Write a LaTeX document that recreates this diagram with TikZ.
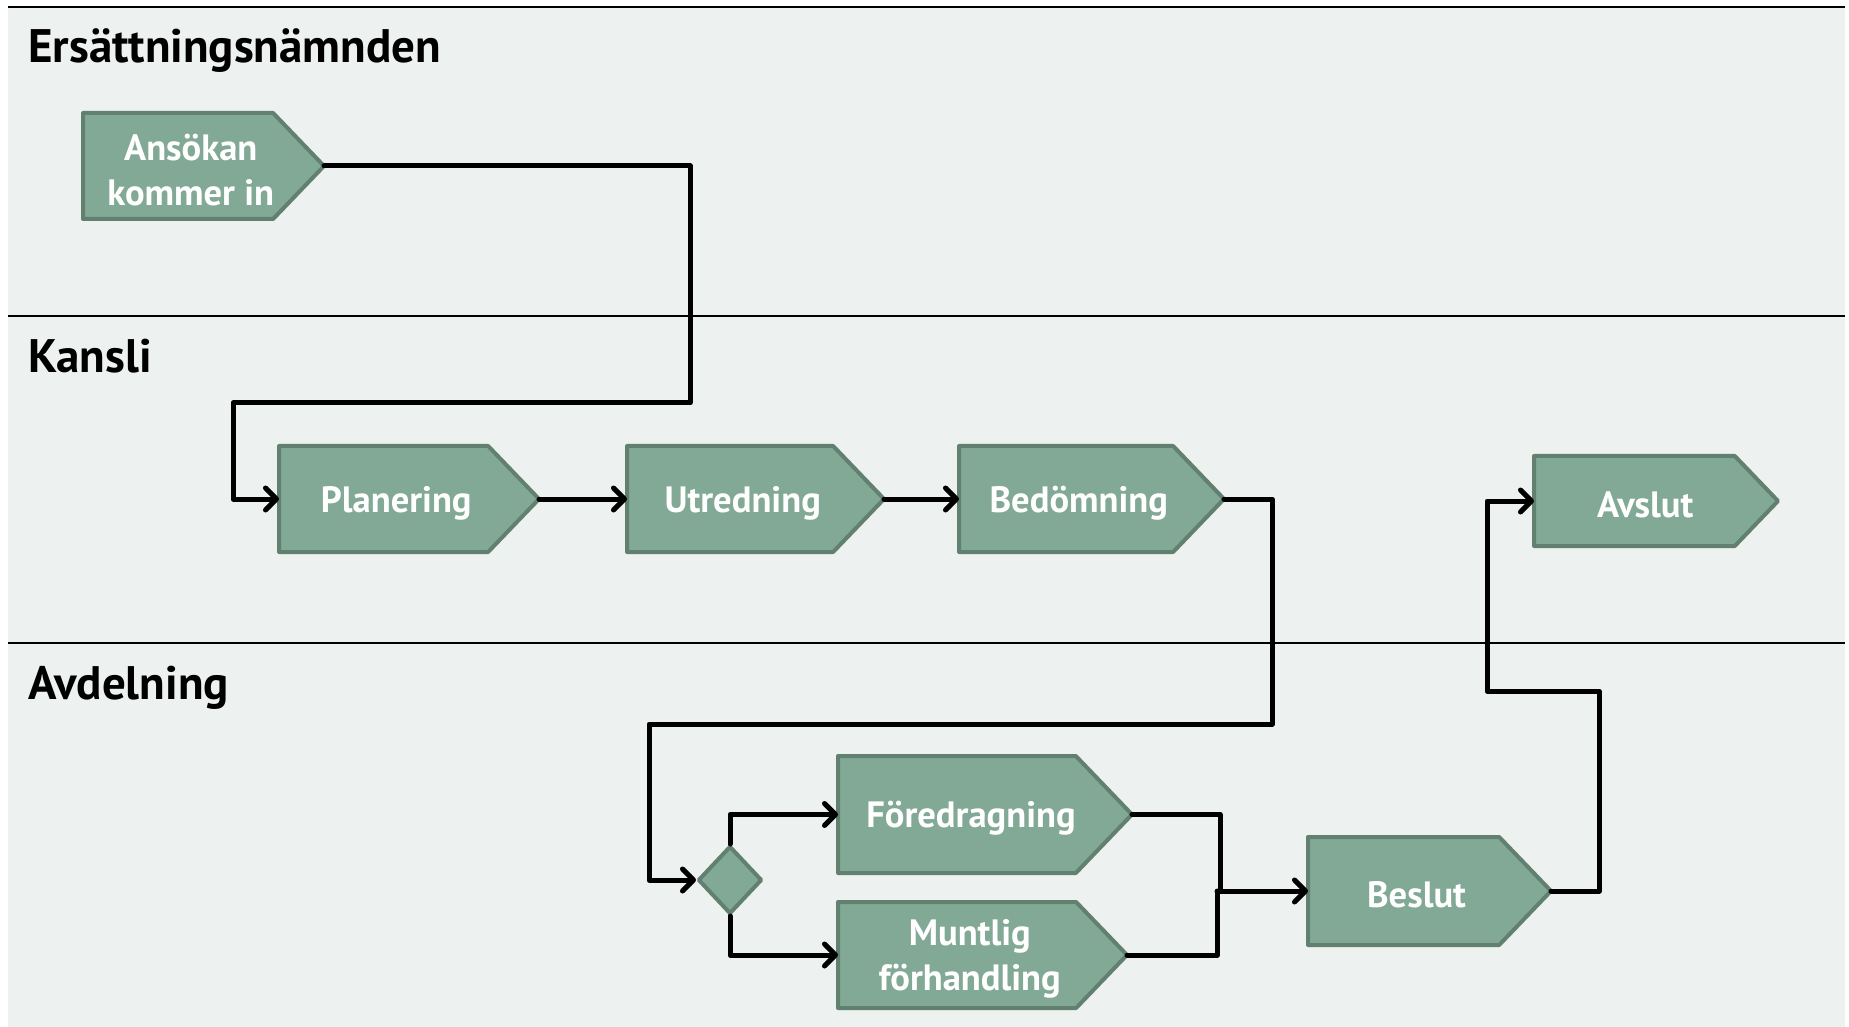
\documentclass[tikz,border=0pt]{standalone}
\usepackage{fontspec}
\setmainfont{PT Sans}
\usetikzlibrary{arrows.meta,shapes.geometric,calc}
\definecolor{bgc}{HTML}{EDF1EF}
\definecolor{boxfill}{HTML}{82A996}
\definecolor{boxedge}{HTML}{62806F}
\tikzset{
  procedge/.style={draw=boxedge, fill=boxfill, line width=2pt, line join=round},
  procframe/.style={rectangle, inner sep=0pt, outer sep=0pt, draw=none},
  proctext/.style={text=white, font=\fontsize{18.3}{22.5}\selectfont\bfseries, align=center, inner sep=0pt},
  lanelabel/.style={font=\fontsize{23.5}{27}\selectfont\bfseries, anchor=base west, inner sep=0pt},
  conn/.style={line width=2.5pt, line join=round, line cap=round},
  arr/.style={conn, -{Straight Barb[round,length=5.5pt,width=11pt]}},
}
% #1 name, #2 x1, #3 x2, #4 y1, #5 y2, #6 text
\newcommand\procbox[6]{%
  \pgfmathsetmacro\procdep{(#5-#4)*0.48}%
  \node[procframe, minimum width={(#3-#2)*0.5pt}, minimum height={(#5-#4)*0.5pt}] (#1) at ({(#2+#3)/2},{(#4+#5)/2}) {};
  \path[procedge] (#1.north west) -- ([xshift={-\procdep*0.5pt}]#1.north east) -- (#1.east) -- ([xshift={-\procdep*0.5pt}]#1.south east) -- (#1.south west) -- cycle;
  \node[proctext, yshift=-2pt] (#1-label) at ({(#2+#3-\procdep/2)/2},{(#4+#5)/2}) {#6};
}
\begin{document}
\begin{tikzpicture}[x=0.5pt,y=-0.5pt]
\useasboundingbox (0,0) rectangle (1849,1027);
\fill[bgc] (8,7) rectangle (1845,1027);
\draw[line width=1.4pt] (8,7) -- (1845,7);
\draw[line width=1pt] (8,316) -- (1845,316);
\draw[line width=1pt] (8,643) -- (1845,643);

\node[lanelabel] (lane1) at (28,63) {Ersättningsnämnden};
\node[lanelabel] (lane2) at (28,372) {Kansli};
\node[lanelabel] (lane3) at (28,699) {Avdelning};

\procbox{ans}{83}{324}{113}{219}{Ansökan\\kommer in}
\procbox{plan}{279}{539}{446}{552}{Planering}
\procbox{utr}{627}{884}{446}{552}{Utredning}
\procbox{bed}{959}{1224}{446}{552}{Bedömning}
\procbox{avs}{1534}{1778}{456}{546}{Avslut}
\procbox{fore}{838}{1132}{756}{873}{Föredragning}
\procbox{munt}{838}{1127}{902}{1008}{Muntlig\\förhandling}
\procbox{besl}{1308}{1551}{837}{945}{Beslut}
\node[diamond, procedge, minimum width=32pt, minimum height=34pt, inner sep=0pt] (dia) at (730,880) {};

\draw[arr] (ans.east) -| (690,403) -| ([xshift=-23pt]plan.west) -- (plan.west);
\draw[arr] (plan.east) -- (utr.west);
\draw[arr] (utr.east) -- (bed.west);
\draw[arr] (bed.east) -| (1272,724) -| ([xshift=-23.5pt]dia.west) -- (dia.west);
\draw[arr] (dia.north) |- (fore.west);
\draw[arr] (dia.south) |- (munt.west);
\coordinate (join) at ([xshift=-44.5pt]besl.west);
\draw[conn] (fore.east) -| ([xshift=0.5pt]join);
\draw[conn] (munt.east) -| ([xshift=-1pt]join);
\draw[arr] ([xshift=-1pt]join) -- (besl.west);
\draw[arr] (besl.east) -| (1599,691) -| ([xshift=-23.5pt]avs.west) -- (avs.west);
\end{tikzpicture}
\end{document}
